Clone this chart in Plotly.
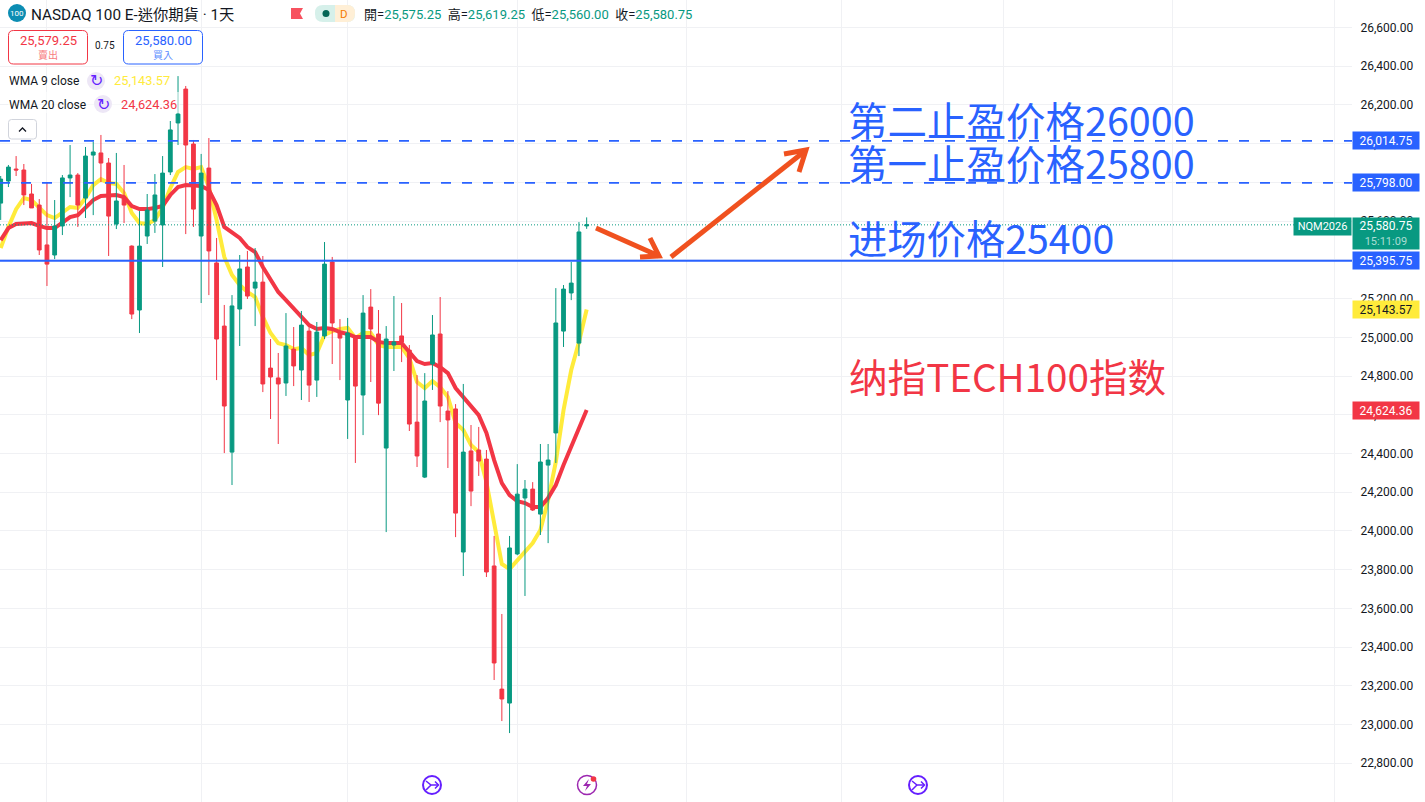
"""
NASDAQ 100 E-mini daily chart with WMA lines and entry / take-profit levels
"""

import plotly.graph_objects as go

GREEN = '#089981'
RED = '#F23645'
BLUE = '#2962FF'
YELLOW = '#FFEB3B'
ORANGE = '#F0511F'
INK = '#131722'
GRID = '#F0F1F4'

# Daily bars, oldest first
opens = [25693, 25807, 25869, 25864, 25740, 25683, 25477, 25425, 25575, 25823, 25838,
         25719, 25941, 25952, 25900, 25585, 25719, 25471, 25141, 25523, 25600, 25580,
         25854, 26107, 26282, 25998, 25523, 25874, 25384, 25058, 24407, 25146, 25363,
         25254, 25285, 24841, 24790, 24764, 24939, 24831, 25032, 24779, 25007, 25389,
         25027, 24676, 25001, 24702, 25156, 25017, 24428, 24960, 25007, 24934, 24562,
         24278, 24862, 25017, 24619, 24630, 23891, 24413, 24418, 24371, 23819, 23183,
         23111, 23881, 24170, 24216, 24087, 24340, 24506, 25032, 25229, 24970, 25575.25]
highs = [25833, 25890, 25936, 25895, 25792, 25714, 25802, 25709, 25838, 25993, 25848,
         25983, 26009, 26045, 25926, 25952, 25890, 25475, 25652, 25740, 25843, 25936,
         26117, 26349, 26298, 26019, 25947, 26029, 25513, 25167, 25218, 25425, 25446,
         25461, 25420, 24991, 24919, 25125, 25053, 25136, 25053, 25079, 25492, 25415,
         25094, 25100, 25007, 25218, 25249, 25141, 25058, 25213, 25177, 24960, 24805,
         24815, 25115, 25208, 24722, 24655, 24759, 24547, 24537, 24418, 23974, 23571,
         23974, 24345, 24263, 24252, 24449, 24449, 25254, 25270, 25389, 25595, 25619.25]
lows = [25606, 25776, 25833, 25683, 25668, 25425, 25265, 25404, 25528, 25724, 25570,
        25616, 25631, 25802, 25420, 25559, 25590, 25094, 25022, 25482, 25539, 25363,
        25838, 25993, 25533, 25570, 25177, 25218, 24779, 24402, 24237, 24955, 25198,
        25058, 24717, 24578, 24449, 24697, 24748, 24676, 24666, 24692, 24991, 24862,
        24779, 24475, 24351, 24495, 24769, 24598, 23994, 24826, 24872, 24516, 24330,
        24273, 24728, 24562, 24325, 23968, 23767, 24128, 24284, 23762, 23230, 23018,
        22956, 23875, 23664, 24103, 23979, 23937, 24351, 24950, 25192, 24903, 25560.00]
closes = [25817, 25879, 25864, 25735, 25668, 25451, 25378, 25575, 25823, 25838, 25683,
          25936, 25957, 25900, 25626, 25704, 25683, 25120, 25471, 25657, 25735, 25848,
          26071, 26153, 25993, 25662, 25848, 25446, 24991, 24645, 25162, 25353, 25213,
          25285, 24759, 24795, 24759, 24955, 24852, 25063, 24753, 25027, 25378, 25074,
          24996, 25022, 24748, 25125, 25043, 24660, 24991, 24976, 24976, 24552, 24387,
          24671, 25012, 24645, 24573, 24092, 24407, 24206, 24361, 23788, 23318, 23132,
          23912, 24190, 24216, 24108, 24356, 24366, 25074, 25249, 25280, 25544, 25580.75]

wma_9 = [25461, 25570, 25662, 25719, 25709, 25673, 25631, 25616, 25642, 25673, 25668,
         25719, 25786, 25817, 25797, 25792, 25745, 25642, 25590, 25585, 25606, 25668,
         25771, 25854, 25879, 25869, 25879, 25776, 25606, 25415, 25322, 25270, 25234,
         25208, 25105, 25022, 24970, 24960, 24939, 24945, 24908, 24919, 25012, 25032,
         25043, 25048, 24996, 25022, 25022, 24960, 24950, 24950, 24950, 24893, 24769,
         24738, 24774, 24743, 24692, 24557, 24521, 24444, 24407, 24252, 24041, 23829,
         23803, 23850, 23896, 23937, 24005, 24159, 24356, 24624, 24831, 24976, 25143.57]
wma_20 = [25502, 25564, 25585, 25590, 25590, 25575, 25564, 25564, 25595, 25621, 25631,
          25668, 25709, 25730, 25730, 25735, 25724, 25678, 25662, 25662, 25668, 25678,
          25735, 25776, 25786, 25781, 25781, 25761, 25683, 25570, 25539, 25513, 25466,
          25440, 25363, 25296, 25234, 25192, 25151, 25105, 25063, 25043, 25048, 25043,
          25027, 25017, 25001, 25001, 25001, 24976, 24970, 24970, 24970, 24924, 24877,
          24862, 24867, 24846, 24815, 24738, 24692, 24640, 24598, 24506, 24366, 24247,
          24185, 24154, 24144, 24123, 24123, 24170, 24237, 24340, 24433, 24537, 24624.36]

# Price levels and axis
take_profit_2 = 26014.75
take_profit_1 = 25798.00
entry_level = 25395.75
last_price = 25580.75
price_ticks = list(range(22800, 26601, 200))
month_bars = [6, 26, 45, 67, 89, 109, 130, 152, 173]

bars = list(range(len(closes)))

# Plot area is 1352 px wide, the price scale takes the rest
PLOT_W = 1352
PLOT_H = 802
BAR_STEP = 7.71
x_range = [-0.7 / BAR_STEP, (PLOT_W - 0.7) / BAR_STEP]
y_range = [22600, 26742]


def fx(px):
    return px / PLOT_W


def fy(py):
    return 1 - py / PLOT_H


def path_from(points, close=False):
    cmds = [('M' if i == 0 else 'L') + f' {fx(p[0]):.5f} {fy(p[1]):.5f}' for i, p in enumerate(points)]
    return ' '.join(cmds) + (' Z' if close else '')


def round_box(x0, y0, x1, y1, r, line_color, fill='white', width=1):
    d = (f'M {fx(x0 + r)} {fy(y0)} L {fx(x1 - r)} {fy(y0)} Q {fx(x1)} {fy(y0)} {fx(x1)} {fy(y0 + r)} '
         f'L {fx(x1)} {fy(y1 - r)} Q {fx(x1)} {fy(y1)} {fx(x1 - r)} {fy(y1)} '
         f'L {fx(x0 + r)} {fy(y1)} Q {fx(x0)} {fy(y1)} {fx(x0)} {fy(y1 - r)} '
         f'L {fx(x0)} {fy(y0 + r)} Q {fx(x0)} {fy(y0)} {fx(x0 + r)} {fy(y0)} Z')
    return dict(type='path', xref='paper', yref='paper', path=d, fillcolor=fill,
                line=dict(color=line_color, width=width), layer='above')


def circle(cx, cy, r, fill, line_color=None, width=0):
    return dict(type='circle', xref='paper', yref='paper',
                x0=fx(cx - r), x1=fx(cx + r), y0=fy(cy + r), y1=fy(cy - r),
                fillcolor=fill, line=dict(color=line_color or fill, width=width), layer='above')


def stroke(points, color, width):
    return dict(type='path', xref='paper', yref='paper', path=path_from(points),
                line=dict(color=color, width=width), layer='above')


def solid(points, color):
    return dict(type='path', xref='paper', yref='paper', path=path_from(points, close=True),
                fillcolor=color, line=dict(width=0), layer='above')


def level_line(price, dash, width, color=BLUE):
    return dict(type='line', xref='paper', yref='y', x0=0, x1=1, y0=price, y1=price,
                line=dict(color=color, width=width, dash=dash), layer='above')


def label(px, py, text, size=12, color=INK, anchor='left', family='Roboto'):
    return dict(xref='paper', yref='paper', x=fx(px), y=fy(py), text=text, showarrow=False,
                xanchor=anchor, yanchor='middle', borderpad=0,
                font=dict(family=family, size=size, color=color))


def price_tag(price, text, bg, color='white'):
    return dict(xref='paper', yref='y', x=1, y=price, text=text, showarrow=False,
                xanchor='left', yanchor='middle', width=66, height=17, borderpad=0,
                bgcolor=bg, align='center', font=dict(family='Roboto', size=12, color=color))


fig = go.Figure()

# WMA lines go underneath the candles
fig.add_trace(go.Scatter(x=bars, y=wma_9, mode='lines', name='WMA 9',
                         line=dict(color=YELLOW, width=4), xaxis='x', yaxis='y'))
fig.add_trace(go.Scatter(x=bars, y=wma_20, mode='lines', name='WMA 20',
                         line=dict(color=RED, width=4), xaxis='x', yaxis='y'))

fig.add_trace(go.Candlestick(
    x=bars, open=opens, high=highs, low=lows, close=closes,
    name='NQM2026', xaxis='x', yaxis='y2', whiskerwidth=0,
    increasing=dict(line=dict(color=GREEN, width=1), fillcolor=GREEN),
    decreasing=dict(line=dict(color=RED, width=1), fillcolor=RED),
))

shapes = [
    level_line(take_profit_2, '10px,11px', 1.7),
    level_line(take_profit_1, '10px,11px', 1.7),
    level_line(entry_level, 'solid', 2),
    level_line(last_price, '1px,2px', 1, GREEN),
    # backdrop behind the second legend row
    dict(type='rect', xref='paper', yref='paper', x0=fx(8), x1=fx(180), y0=fy(113), y1=fy(92),
         fillcolor='rgba(255,255,255,0.55)', line=dict(width=0), layer='above'),
    # hand drawn arrows
    stroke([(596, 228), (659, 256)], ORANGE, 5),
    stroke([(640, 257), (659, 256), (650, 238)], ORANGE, 5),
    stroke([(671, 257), (805, 151)], ORANGE, 5),
    stroke([(784, 154), (806, 150), (799, 172)], ORANGE, 5),
    # header badges
    circle(17, 13, 9, '#0C8DB3'),
    solid([(291, 8), (303, 8), (300, 13.5), (303, 19), (291, 19)], '#F7525F'),
    round_box(315, 5, 355, 22, 8, '#D6F0EA', fill='#D6F0EA', width=0),
    dict(type='path', xref='paper', yref='paper', layer='above', fillcolor='#FFEFD6', line=dict(width=0),
         path=f'M {fx(335)} {fy(5)} L {fx(347)} {fy(5)} Q {fx(355)} {fy(5)} {fx(355)} {fy(13)} '
              f'Q {fx(355)} {fy(22)} {fx(347)} {fy(22)} L {fx(335)} {fy(22)} Z'),
    circle(326, 13.5, 3.5, '#056656'),
    # sell / buy buttons
    round_box(8.5, 30.5, 87.5, 64, 5, RED),
    round_box(123.5, 30.5, 202.5, 64, 5, BLUE),
    # legend refresh badges and collapse button
    circle(96, 81, 9, '#EDE7F6'),
    circle(103, 104, 9, '#EDE7F6'),
    round_box(8.5, 119.5, 36.5, 139, 3, '#D1D4DC'),
    stroke([(19, 131.5), (22.5, 128), (26, 131.5)], INK, 1.3),
    # event icons along the bottom
    circle(432, 785, 9, 'white', '#651FFF', 2),
    stroke([(426, 781), (431, 785), (438, 785)], '#651FFF', 1.5),
    stroke([(426, 790), (431, 785)], '#651FFF', 1.5),
    stroke([(435, 781.5), (438.5, 785), (435, 788.5)], '#651FFF', 1.5),
    circle(587, 785, 9.5, 'white', '#9C27B0', 1.5),
    solid([(589, 779), (583, 786), (587, 786), (585, 791), (591, 784), (587, 784)], '#9C27B0'),
    circle(593.5, 779, 2.8, RED),
    circle(918, 785, 9, 'white', '#651FFF', 2),
    stroke([(912, 781), (917, 785), (924, 785)], '#651FFF', 1.5),
    stroke([(912, 790), (917, 785)], '#651FFF', 1.5),
    stroke([(921, 781.5), (924.5, 785), (921, 788.5)], '#651FFF', 1.5),
]

eq = f'<span style="color:{INK}">'
ohlc_text = (f'{eq}開=</span>25,575.25  {eq}高=</span>25,619.25  '
             f'{eq}低=</span>25,560.00  {eq}收=</span>25,580.75')
CJK = 'Noto Sans CJK SC'
CJK_TC = 'Noto Sans CJK TC'

annotations = [
    label(17, 13, '100', 8, 'white', 'center'),
    label(30, 15, 'NASDAQ 100 E-迷你期貨 · 1天', 15.3, INK, family=f'Roboto, {CJK_TC}'),
    label(344, 13.5, 'D', 11.5, '#F57C00', 'center'),
    label(363, 14, ohlc_text, 13, GREEN, family=f'Roboto, {CJK_TC}'),
    label(48, 41, '25,579.25', 13, RED, 'center'),
    label(48, 54, '賣出', 10, '#F77C80', 'center', CJK_TC),
    label(105, 46, '0.75', 10, INK, 'center'),
    label(163, 41, '25,580.00', 13, BLUE, 'center'),
    label(163, 54, '買入', 10, '#5B8BFF', 'center', CJK_TC),
    label(8, 81, 'WMA 9 close', 12, INK),
    label(96, 80.5, '↻', 16, '#651FFF', 'center', 'DejaVu Sans'),
    label(113, 81, '25,143.57', 12.8, YELLOW),
    label(8, 104.5, 'WMA 20 close', 12, INK),
    label(103, 104, '↻', 16, '#651FFF', 'center', 'DejaVu Sans'),
    label(120, 104.5, '24,624.36', 12.8, RED),
    # chart notes
    label(847, 118, '第二止盈价格26000', 39.5, BLUE, family=CJK),
    label(847, 161, '第一止盈价格25800', 39.5, BLUE, family=CJK),
    label(847, 236, '进场价格25400', 39.3, BLUE, family=CJK),
    label(848, 375, '纳指TECH100指数', 38.6, RED, family=CJK),
    # tags on the price scale
    price_tag(take_profit_2, '26,014.75', BLUE),
    price_tag(take_profit_1, '25,798.00', BLUE),
    price_tag(entry_level, '25,395.75', BLUE),
    price_tag(wma_9[-1], '25,143.57', YELLOW, INK),
    price_tag(wma_20[-1], '24,624.36', RED),
    dict(xref='paper', yref='y', x=1, y=last_price, yanchor='top', yshift=8, xanchor='left',
         text='25,580.75<br><span style="font-size:11px;color:#A8DDD3">15:11:09</span>',
         showarrow=False, width=66, height=31, borderpad=0, bgcolor=GREEN,
         font=dict(family='Roboto', size=12, color='white')),
    dict(xref='paper', yref='y', x=1, y=last_price, yanchor='top', yshift=8, xanchor='right',
         text='NQM2026', showarrow=False, width=57, height=17, borderpad=0, bgcolor=GREEN,
         font=dict(family='Roboto', size=11, color='white')),
]

fig.update_layout(
    width=1425, height=802,
    margin=dict(l=0, r=1425 - PLOT_W, t=0, b=0),
    paper_bgcolor='white', plot_bgcolor='white',
    showlegend=False, boxgap=0.3,
    xaxis=dict(range=x_range, tickvals=month_bars, showticklabels=False, ticks='',
               showgrid=True, gridcolor=GRID, gridwidth=1, zeroline=False,
               rangeslider=dict(visible=False)),
    yaxis=dict(range=y_range, side='right', tickvals=price_ticks, tickformat=',.2f',
               ticks='outside', ticklen=5, tickcolor='rgba(0,0,0,0)',
               tickfont=dict(family='Roboto', size=12, color=INK),
               showgrid=True, gridcolor=GRID, gridwidth=1, zeroline=False),
    yaxis2=dict(range=y_range, overlaying='y', side='right', showticklabels=False,
                showgrid=False, zeroline=False, ticks=''),
    shapes=shapes,
    annotations=annotations,
)

fig.write_html("out.html", config={'displayModeBar': False},
               post_script="document.body.style.margin='0';document.body.style.overflow='hidden';")
